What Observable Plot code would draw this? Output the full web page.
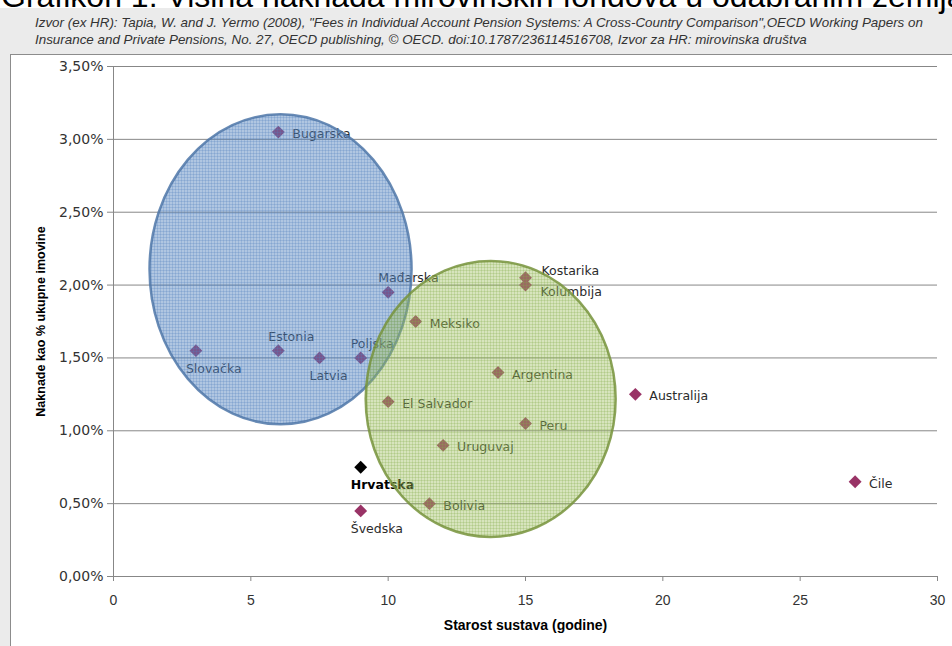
<!DOCTYPE html>
<html><head><meta charset="utf-8">
<script src="https://cdn.jsdelivr.net/npm/d3@7"></script>
<script src="https://cdn.jsdelivr.net/npm/@observablehq/plot@0.6"></script>
<style>
body{margin:0;width:952px;height:646px;overflow:hidden;background:#fff;position:relative;font-family:"Liberation Sans",Arial,sans-serif}
#panel{position:absolute;left:0;top:8px;width:952px;height:638px;background:#ebebeb}
#title{position:absolute;left:1px;top:-21px;font-size:32px;line-height:34px;color:#000;white-space:nowrap}
#caption{position:absolute;left:35px;top:14px;font-style:italic;font-size:13.4px;line-height:17px;color:#333;white-space:nowrap}
#box{position:absolute;left:10px;top:54px;width:960px;height:620px;background:#fff;border:1px solid #8c8c8c}
#chart{position:absolute;left:10px;top:54px}
</style></head><body>
<div id="panel"></div>
<div id="title">Grafikon 1: Visina naknada mirovinskih fondova u odabranim zemljama</div>
<div id="caption">Izvor (ex HR): Tapia, W. and J. Yermo (2008), "Fees in Individual Account Pension Systems: A Cross-Country Comparison",OECD Working Papers on<br>Insurance and Private Pensions, No. 27, OECD publishing, © OECD. doi:10.1787/236114516708, Izvor za HR: mirovinska društva</div>
<div id="box"></div>
<div id="chart"></div>
<script>
const countries = ["Bugarska","Slovačka","Estonia","Latvia","Poljska","Mađarska","Meksiko","Kostarika","Kolumbija","Argentina","El Salvador","Peru","Uruguvaj","Hrvatska","Bolivia","Švedska","Australija","Čile"];
const systemAge = [6,3,6,7.5,9,10,11,15,15,14,10,15,12,9,11.5,9,19,27];
const feePct = [3.05,1.55,1.55,1.5,1.5,1.95,1.75,2.05,2.0,1.4,1.2,1.05,0.9,0.75,0.5,0.45,1.25,0.65];
const labelSide = ["right","below","above","below","above","above","right","rightAbove","rightBelow","right","right","right","right","below","right","below","right","right"];
const highlight = "Hrvatska";
const yTicks = [0,0.5,1,1.5,2,2.5,3,3.5];
const xTicks = [0,5,10,15,20,25,30];
const groupNames = ["blue","green"];
const groupCenterX = [6.1,13.75];
const groupCenterY = [2.105,1.215];
const groupRadiusX = [4.77,4.55];
const groupRadiusY = [1.064,0.947];
const xLabel = "Starost sustava (godine)";
const yLabel = "Naknade kao % ukupne imovine";

const rows = countries.map((c,i)=>({country:c, age:systemAge[i], fee:feePct[i], side:labelSide[i]}));
const groupStyle = {
  blue:{base:"rgba(79,129,189,0.45)", line:"rgba(79,129,189,0.25)", stroke:"#4f77a8"},
  green:{base:"rgba(155,187,89,0.40)", line:"rgba(130,170,70,0.25)", stroke:"#77933c"}
};

function ellipses(index, scales) {
  const {x, y} = scales;
  const g = d3.create("svg:g");
  const defs = g.append("defs");
  groupNames.forEach((name,i)=>{
    const st = groupStyle[name];
    const p = defs.append("pattern").attr("id","pat-"+name).attr("patternUnits","userSpaceOnUse").attr("width",3).attr("height",3);
    p.append("rect").attr("width",3).attr("height",3).attr("fill",st.base);
    p.append("path").attr("d","M0 0.5H3M0.5 0V3").attr("stroke",st.line).attr("stroke-width",1);
    const cx = x(groupCenterX[i]), cy = y(groupCenterY[i]);
    const rx = Math.abs(x(groupCenterX[i]+groupRadiusX[i]) - cx);
    const ry = Math.abs(y(groupCenterY[i]+groupRadiusY[i]) - cy);
    g.append("ellipse").attr("cx",cx).attr("cy",cy).attr("rx",rx).attr("ry",ry)
      .attr("fill","url(#pat-"+name+")").attr("stroke",st.stroke).attr("stroke-width",2.5).attr("stroke-opacity",0.85);
  });
  return g.node();
}

const fmtPct = d => d.toFixed(2).replace(".",",") + "%";
const labelFont = {fontFamily:"DejaVu Sans", fontSize:12.5, fill:"#2b2b2b", textAnchor:"start"};
const sides = {right:[14,2], above:[-10,-14], below:[-10,18], rightAbove:[16,-7], rightBelow:[15,7]};
const labelMarks = Object.entries(sides).map(([s,[dx,dy]]) =>
  Plot.text(rows.filter(r=>r.side===s && r.country!==highlight), {x:"age", y:"fee", text:"country", dx, dy, ...labelFont, style:"letter-spacing:0.6px"})
);
const hl = rows.filter(r=>r.country===highlight);
const [hdx,hdy] = sides[hl[0].side];

const chart = Plot.plot({
  width:942, height:592, marginLeft:103, marginRight:15, marginTop:12, marginBottom:70,
  x:{domain:[0,30]}, y:{domain:[0,3.5]},
  style:{background:"transparent", overflow:"visible", color:"#333"},
  marks:[
    Plot.ruleY(yTicks, {stroke:"#878787", strokeWidth:1}),
    Plot.ruleX([0], {y1:0, y2:3.5, stroke:"#878787"}),
    Plot.axisY({ticks:yTicks, tickFormat:fmtPct, tickSize:6, tickPadding:4, label:null, stroke:"#878787", fill:"#333", fontSize:14, fontFamily:"DejaVu Sans"}),
    Plot.axisX({ticks:xTicks, tickSize:5, tickPadding:14, label:null, stroke:"#878787", fill:"#333", fontSize:14, fontFamily:"Liberation Sans"}),
    Plot.text([yLabel], {frameAnchor:"left", dx:-73, rotate:-90, textAnchor:"middle", fontWeight:"bold", fontSize:12.5, fill:"#000", fontFamily:"Liberation Sans"}),
    Plot.text([xLabel], {frameAnchor:"bottom", dy:53, fontWeight:"bold", fontSize:14, fill:"#000", fontFamily:"Liberation Sans"}),
    Plot.dot(rows, {x:"age", y:"fee", symbol:"diamond2", r:5.8, fill:d=>d.country===highlight?"#000":"#993366", stroke:"none"}),
    ...labelMarks,
    Plot.text(hl, {x:"age", y:"fee", text:"country", dx:hdx, dy:hdy, fontFamily:"DejaVu Sans", fontSize:12.5, fontWeight:"bold", fill:"#000", textAnchor:"start"}),
    ellipses
  ]
});
document.getElementById("chart").appendChild(chart);
</script>
</body></html>
